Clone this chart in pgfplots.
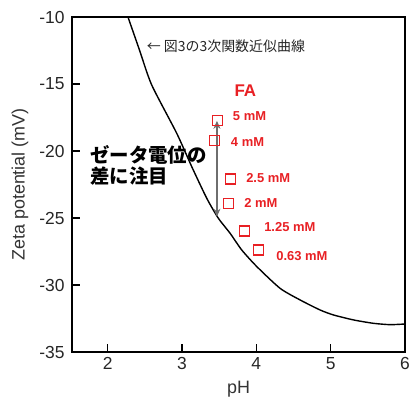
\documentclass[border=0pt]{standalone}
\usepackage{fontspec}
\setmainfont{Liberation Sans}
\newfontfamily\cjk{Noto Sans CJK JP}
\usepackage{pgfplots}
\pgfplotsset{compat=1.18}
\usetikzlibrary{arrows.meta}
\definecolor{fared}{RGB}{232,32,36}
\definecolor{arrgray}{RGB}{110,110,110}

\begin{document}
\begin{tikzpicture}
\path[use as bounding box] (-72bp,-46bp) rectangle (337bp,352bp);
\begin{axis}[
  at={(0,0)}, anchor=south west, scale only axis,
  width=333bp, height=335bp,
  xmin=1.52, xmax=6, ymin=-35, ymax=-10,
  xtick={2,3,4,5,6}, xticklabels={2,3,4,5,6},
  ytick={-35,-30,-25,-20,-15,-10}, yticklabels={-35,-30,-25,-20,-15,-10},
  tick align=inside, xtick pos=bottom, ytick pos=left,
  major tick length=8bp,
  axis line style={line width=1.5bp},
  tick style={line width=1.5bp, black},
  tick label style={font=\fontsize{17.5}{20}\selectfont, text=black!85},
  xticklabel style={yshift=-2bp},
  yticklabel style={xshift=-4bp},
  xlabel={pH}, ylabel={Zeta potential (mV)},
  label style={font=\fontsize{18}{21}\selectfont, text=black!80},
  xlabel style={at={(axis description cs:0.5,-0.110)}, anchor=center},
  ylabel style={at={(axis description cs:-0.156,0.5)}, anchor=center},
]
% cubic approximation curve (Fig. 3)
\addplot[black, line width=1.4bp, smooth, tension=0.4] coordinates {
  (2.273,-10) (2.43,-12.5) (2.592,-15.07) (2.929,-18.68) (3.131,-21.17)
  (3.333,-23.53) (3.489,-25.02) (3.647,-26.14) (3.804,-27.39) (4.007,-28.63)
  (4.32,-30.25) (4.59,-31.12) (4.86,-31.87) (5.04,-32.24) (5.31,-32.61)
  (5.577,-32.86) (5.80,-32.96) (6.0,-32.91)
};
% FA data
\addplot[only marks, color=fared, mark=square, mark size=5bp, mark options={color=fared, line width=1.2bp}] coordinates {
  (3.475,-17.74) (3.435,-19.23) (3.65,-22.09) (3.63,-23.93) (3.84,-25.97) (4.03,-27.39)
};
\draw[arrgray, line width=1.2bp, {Stealth[length=8bp,width=7bp]}-{Stealth[length=8bp,width=7bp]}]
  (axis cs:3.47,-17.75) -- (axis cs:3.47,-24.9);
\begin{scope}[every node/.style={inner sep=0pt, anchor=west, text=fared, font=\bfseries\fontsize{13}{15}\selectfont}]
\node at (axis cs:3.704,-15.5) {\fontsize{17}{19}\selectfont FA};
\node at (axis cs:3.683,-17.37) {5 mM};
\node at (axis cs:3.656,-19.35) {4 mM};
\node at (axis cs:3.862,-21.99) {2.5 mM};
\node at (axis cs:3.835,-23.86) {2 mM};
\node at (axis cs:4.104,-25.65) {1.25 mM};
\node at (axis cs:4.266,-27.81) {0.63 mM};
\end{scope}
\node[inner sep=0pt, anchor=west, font=\cjk\fontsize{14}{16}\selectfont, text=black!85] at (axis cs:2.525,-12.2) {← 図3の3次関数近似曲線};
\node[inner sep=0pt, anchor=west, font=\cjk\bfseries\fontsize{19.5}{22}\selectfont] at (axis cs:1.762,-20.3) {ゼータ電位の};
\node[inner sep=0pt, anchor=west, font=\cjk\bfseries\fontsize{19.5}{22}\selectfont] at (axis cs:1.762,-21.87) {差に注目};
\end{axis}
\end{tikzpicture}
\end{document}
